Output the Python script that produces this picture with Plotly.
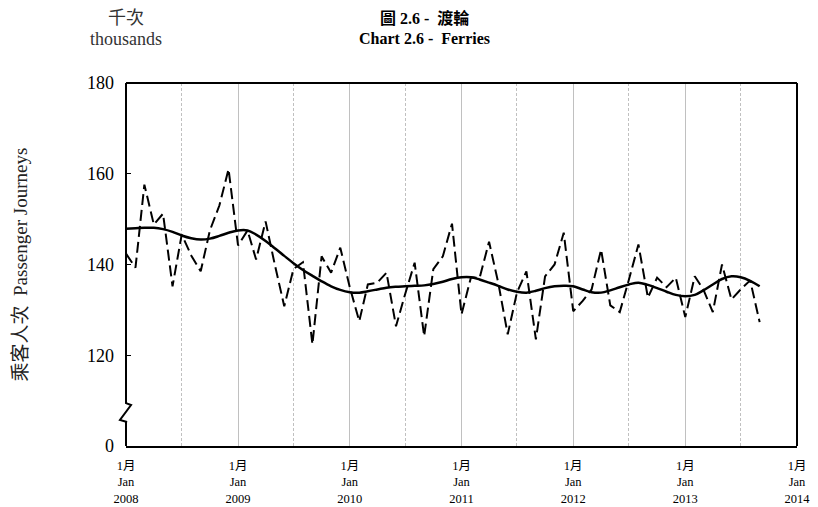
import plotly.graph_objects as go
import pandas as pd

# Monthly data, Jan 2008 - Sep 2013 (thousands of passenger journeys)
months = pd.date_range("2008-01-01", periods=69, freq="MS")
journeys = [
    142.4, 139.3, 157.6, 148.8, 151.2, 135.2, 146.6, 142.0, 138.5, 147.5, 153.0, 161.0,
    144.2, 147.5, 141.1, 149.5, 140.0, 130.8, 139.0, 140.5, 122.4, 141.8, 138.2, 143.7,
    135.0, 127.5, 135.6, 136.0, 138.2, 126.4, 133.5, 140.4, 124.2, 139.0, 141.8, 149.0,
    129.0, 137.2, 137.0, 145.0, 136.0, 124.6, 133.8, 138.5, 123.5, 137.4, 140.0, 147.0,
    129.7, 132.0, 134.5, 143.3, 131.0, 129.5, 136.7, 144.4, 132.7, 137.1, 135.0, 137.1,
    128.4, 137.4, 134.5, 129.5, 140.0, 132.3, 134.5, 136.5, 127.3,
]
trend = [
    147.9, 148.0, 148.1, 148.1, 147.8, 147.2, 146.4, 145.8, 145.5, 145.7, 146.3, 147.0,
    147.5, 147.5, 146.6, 145.2, 143.6, 141.9, 140.3, 138.8, 137.5, 136.3, 135.2, 134.4,
    133.9, 133.8, 134.1, 134.5, 134.9, 135.1, 135.2, 135.3, 135.4, 135.7, 136.2, 136.8,
    137.2, 137.2, 136.7, 136.0, 135.3, 134.5, 134.0, 133.8, 134.2, 134.8, 135.2, 135.3,
    135.2, 134.5, 133.9, 133.8, 134.3, 135.0, 135.6, 136.0, 135.5, 134.8, 134.0, 133.3,
    133.0, 133.3, 134.3, 135.6, 136.8, 137.4, 137.2, 136.4, 135.2,
]
ytick_vals = [100, 120, 140, 160, 180]
ytick_text = ["0", "120", "140", "160", "180"]
xtick_vals = pd.date_range("2008-01-01", "2014-01-01", freq="12MS")
xtick_text = ["1月<br>Jan<br>%d" % d.year for d in xtick_vals]

FONT = "Liberation Serif, Noto Sans CJK TC"

fig = go.Figure()
fig.add_trace(go.Scatter(x=months, y=journeys, mode="lines",
                         line=dict(color="black", width=2, dash="11px,5px"),
                         showlegend=False, hoverinfo="skip"))
fig.add_trace(go.Scatter(x=months, y=trend, mode="lines",
                         line=dict(color="black", width=2.5, shape="spline"),
                         showlegend=False, hoverinfo="skip"))

# page body has an 8px margin, so the figure is sized to fit the window
fig.update_layout(
    width=810, height=499,
    margin=dict(l=118, r=21, t=75, b=61, autoexpand=False),
    paper_bgcolor="white", plot_bgcolor="white",
    font=dict(family=FONT, color="black"),
    xaxis=dict(
        type="date", range=["2008-01-01", "2014-01-01"], automargin=False,
        tickvals=list(xtick_vals), ticktext=xtick_text,
        tickfont=dict(size=12.5), ticks="", ticklabelstandoff=7,
        showgrid=True, gridcolor="#c0c0c0", gridwidth=1,
        minor=dict(dtick="M6", tick0="2008-01-01", showgrid=True,
                   gridcolor="#c0c0c0", griddash="3px,2px", gridwidth=1),
        showline=True, linecolor="black", linewidth=2,
        zeroline=False,
    ),
    yaxis=dict(
        range=[100, 180], tickvals=ytick_vals, ticktext=ytick_text, automargin=False,
        tickfont=dict(size=18), ticks="inside", ticklen=5, tickcolor="black",
        ticklabelstandoff=11,
        showgrid=False, showline=False, zeroline=False,
    ),
)

# frame: right and top edges, left axis with break zigzag
fig.add_shape(type="line", xref="paper", yref="paper", x0=1, x1=1, y0=0, y1=1,
              line=dict(color="black", width=2))
fig.add_shape(type="line", xref="paper", yref="paper", x0=0, x1=1, y0=1, y1=1,
              line=dict(color="black", width=2))
fig.add_shape(
    type="path", xref="paper", yref="paper",
    path="M 0 1 L 0 0.118 L 0.0075 0.113 L -0.009 0.072 L 0.0015 0.066 L 0 0.066 L 0 0",
    line=dict(color="black", width=2),
)

fig.add_annotation(text="乘客人次  Passenger Journeys", xref="paper", yref="paper",
                   x=0, y=0.5, xshift=-106, textangle=-90,
                   xanchor="center", yanchor="middle", showarrow=False,
                   font=dict(size=19, color="#222"))
fig.add_annotation(text="<b>圖 2.6 -  渡輪</b>", xref="paper", yref="paper",
                   x=0.4456, y=1, yshift=65, xanchor="center", yanchor="middle",
                   showarrow=False, font=dict(size=16, color="black"))
fig.add_annotation(text="<b>Chart 2.6 -  Ferries</b>", xref="paper", yref="paper",
                   x=0.4456, y=1, yshift=45, xanchor="center", yanchor="middle",
                   showarrow=False, font=dict(size=16, color="black"))
fig.add_annotation(text="千次", xref="paper", yref="paper",
                   x=0, y=1, xshift=0, yshift=65, xanchor="center", yanchor="middle",
                   showarrow=False, font=dict(size=18, color="#333"))
fig.add_annotation(text="thousands", xref="paper", yref="paper",
                   x=0, y=1, xshift=0, yshift=44, xanchor="center", yanchor="middle",
                   showarrow=False, font=dict(size=18, color="#333"))

fig.write_html("out.html")
